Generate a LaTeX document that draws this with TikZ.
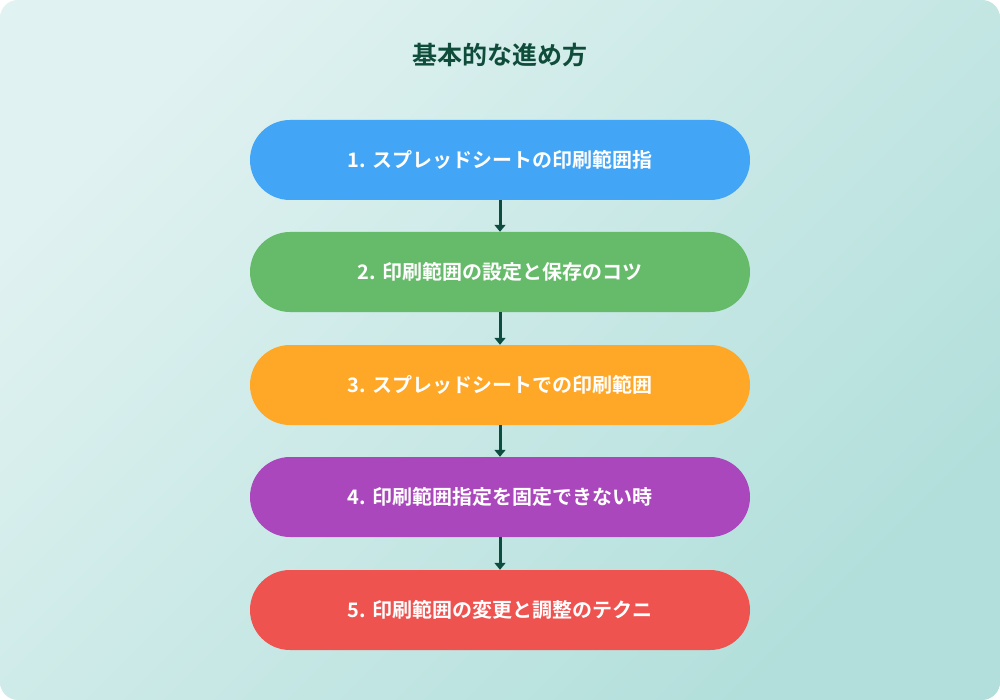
\documentclass[tikz,border=0pt]{standalone}
\usepackage{fontspec}
\newfontfamily\cjk{Noto Sans CJK JP}[BoldFont={Noto Sans CJK JP Bold}]
\usetikzlibrary{arrows.meta}
\definecolor{bgA}{HTML}{E0F2F1}
\definecolor{bgB}{HTML}{B2DFDB}
\definecolor{ttl}{HTML}{0F4D3A}
\definecolor{arr}{HTML}{0D4D40}
\definecolor{c1}{HTML}{42A5F5}
\definecolor{c2}{HTML}{66BB6A}
\definecolor{c3}{HTML}{FFA726}
\definecolor{c4}{HTML}{AB47BC}
\definecolor{c5}{HTML}{EF5350}
\begin{document}
\begin{tikzpicture}[x=1pt,y=-1pt,
  stepbox/.style={rounded corners=40pt,minimum width=500pt,minimum height=80pt,inner sep=0pt,text=white,font=\cjk\bfseries\fontsize{20}{24}\selectfont},
  link/.style={arr,line width=3pt,-{Triangle[length=7pt,width=11pt]}}]
\useasboundingbox (0,0) rectangle (1000,700);
\shade[rounded corners=18pt,left color=bgA,right color=bgB,shading angle=45] (0,0) rectangle (1000,700);
\node[text=ttl,font=\cjk\bfseries\fontsize{25}{30}\selectfont] (t) at (500,55) {基本的な進め方};
\node[stepbox,fill=c1] (b1) at (500,160) {1. スプレッドシートの印刷範囲指};
\node[stepbox,fill=c2] (b2) at (500,272) {2. 印刷範囲の設定と保存のコツ};
\node[stepbox,fill=c3] (b3) at (500,385) {3. スプレッドシートでの印刷範囲};
\node[stepbox,fill=c4] (b4) at (500,497) {4. 印刷範囲指定を固定できない時};
\node[stepbox,fill=c5] (b5) at (500,610) {5. 印刷範囲の変更と調整のテクニ};
\draw[link] (b1) -- (b2);
\draw[link] (b2) -- (b3);
\draw[link] (b3) -- (b4);
\draw[link] (b4) -- (b5);
\end{tikzpicture}
\end{document}
